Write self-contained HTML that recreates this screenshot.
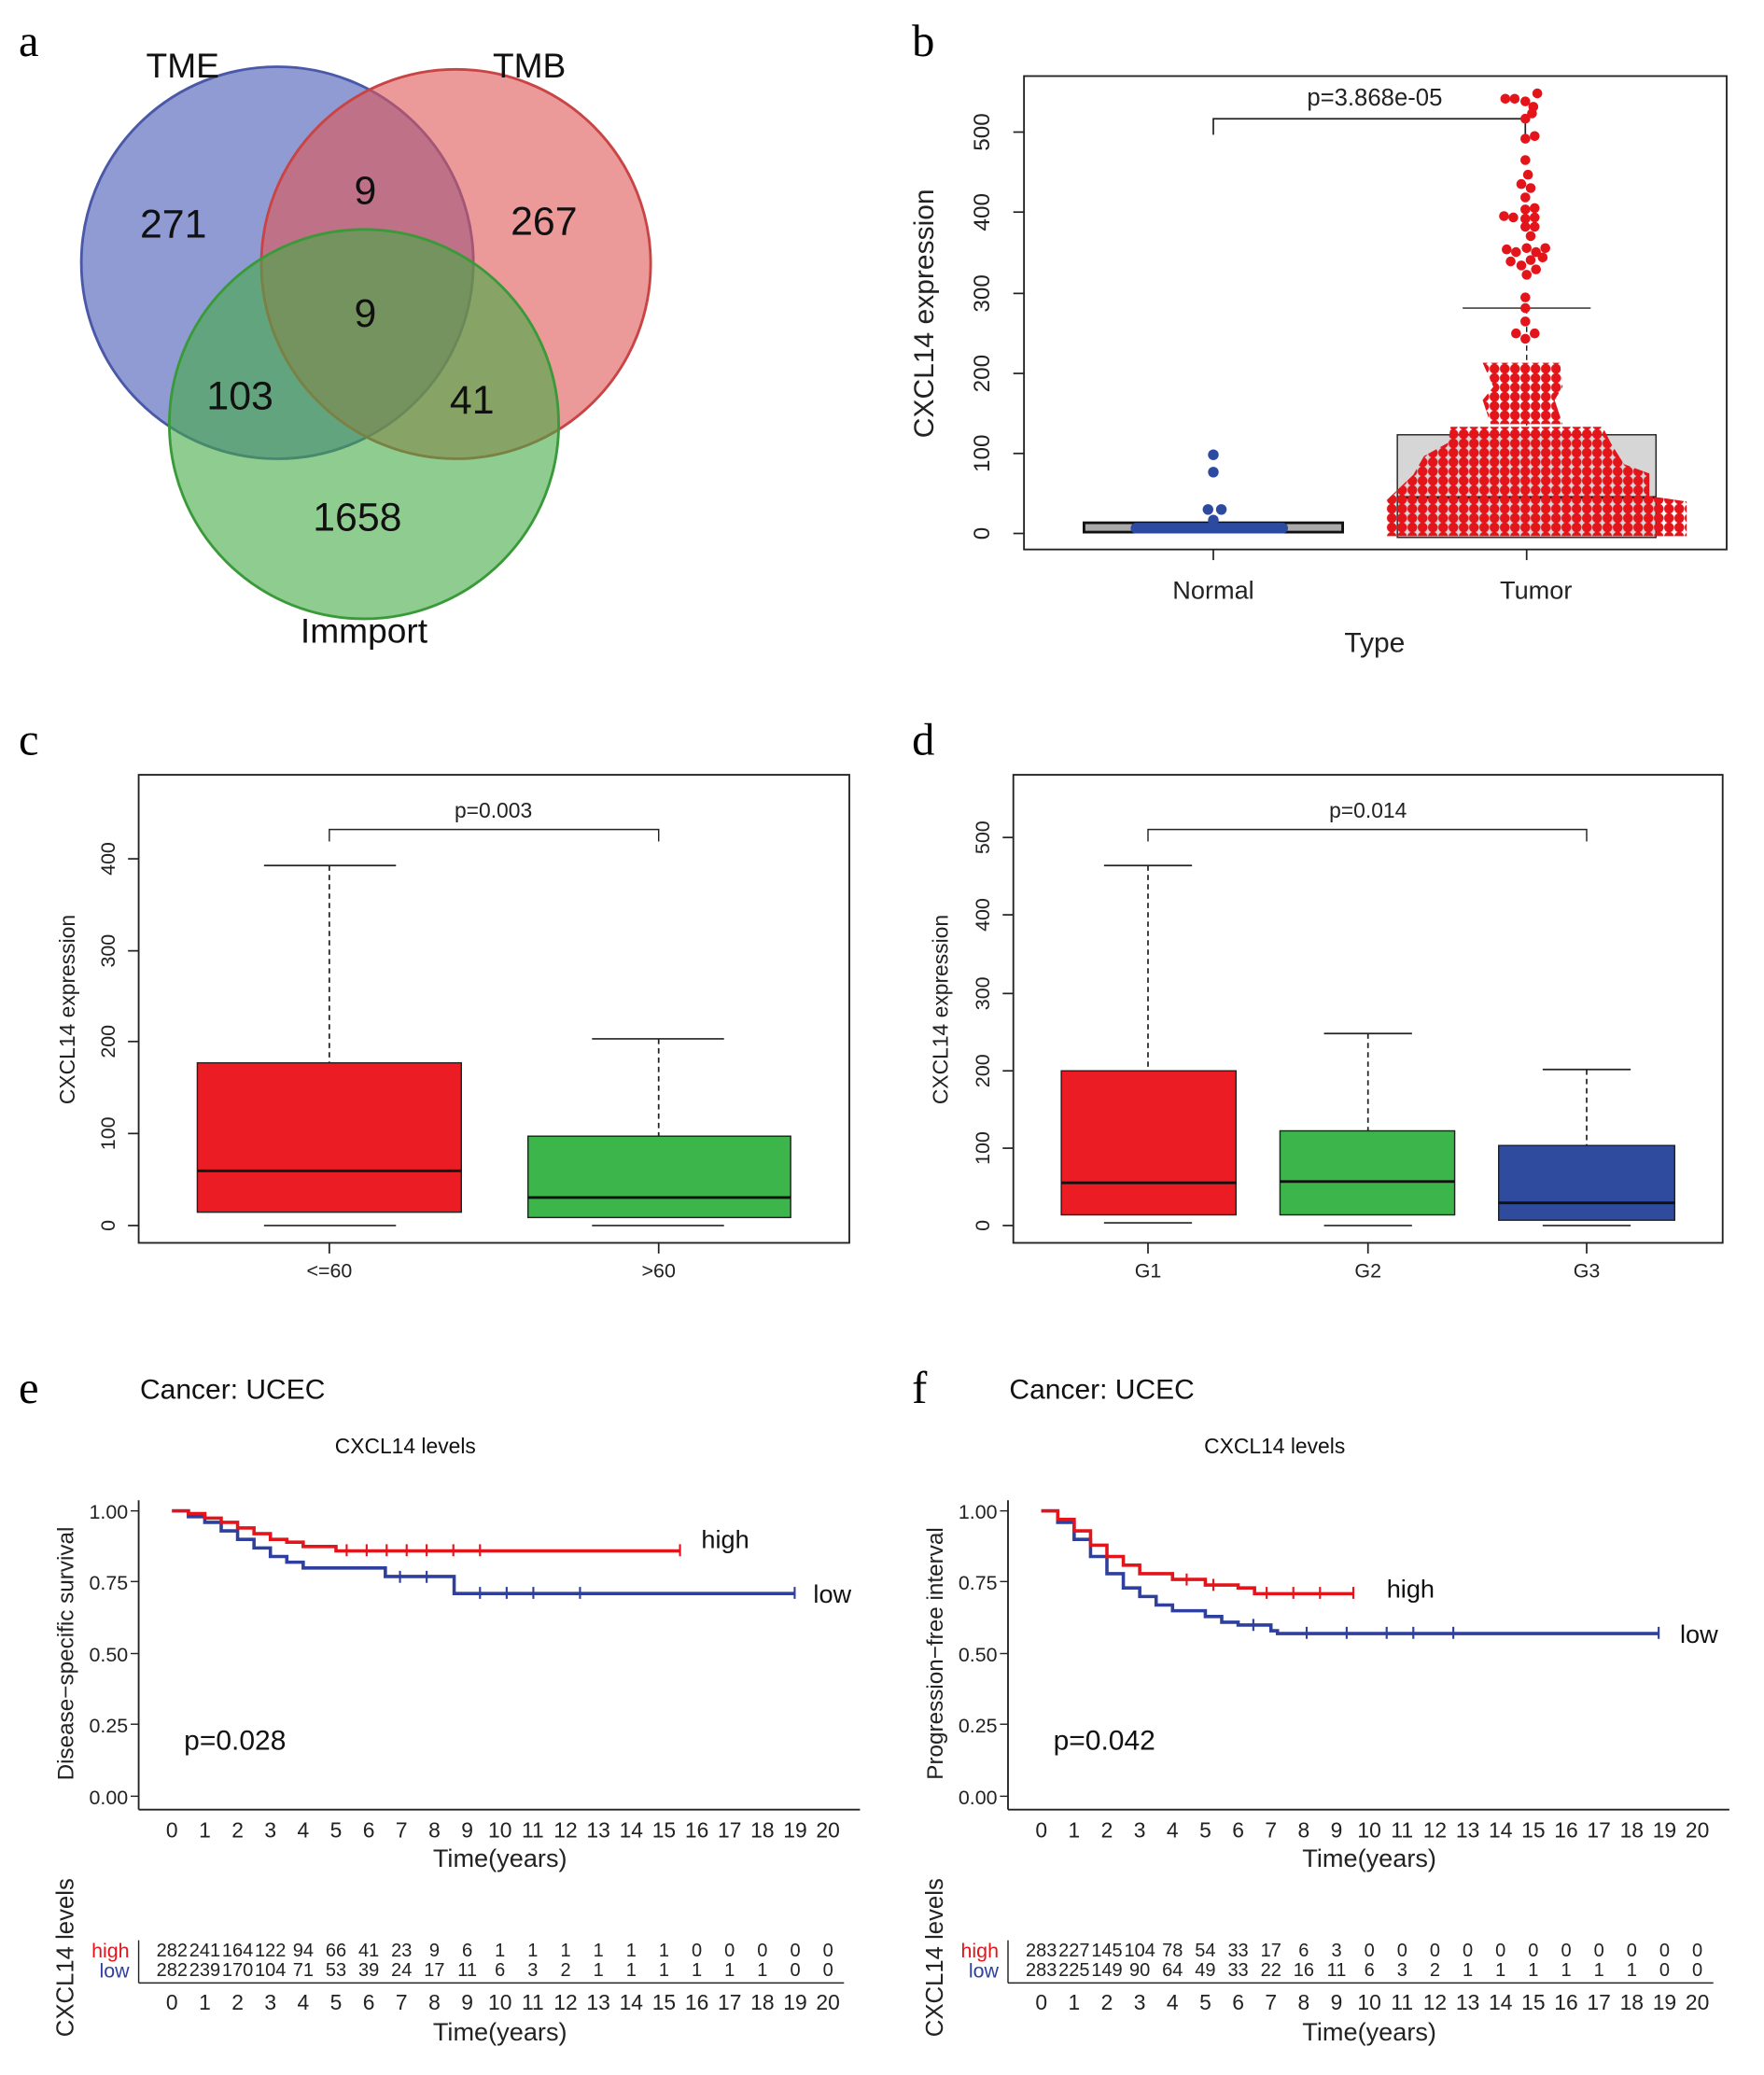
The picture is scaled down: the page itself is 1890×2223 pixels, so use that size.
<!DOCTYPE html>
<html><head><meta charset="utf-8"><style>
html,body{margin:0;padding:0;background:#fff}
svg{display:block}
text{font-family:"Liberation Sans",sans-serif}
.pl{font-family:"Liberation Serif",serif;font-size:34px}
</style></head><body>
<svg width="1890" height="2223" viewBox="0 0 1323 1556" xmlns="http://www.w3.org/2000/svg">
<defs>
<pattern id="rd" x="1040" y="0" width="7.7" height="7" patternUnits="userSpaceOnUse"><circle cx="3.85" cy="3.5" r="3.7" fill="#e3151b"/></pattern>
</defs>
<rect width="1323" height="1556" fill="#fff"/>
<text class="pl" x="14" y="42">a</text>
<text class="pl" x="684" y="42">b</text>
<text class="pl" x="14" y="566">c</text>
<text class="pl" x="684" y="566">d</text>
<text class="pl" x="14" y="1052">e</text>
<text class="pl" x="684" y="1052">f</text>

<!-- Venn -->
<circle cx="208" cy="197" r="147" fill="#5566bb" fill-opacity="0.65" stroke="#4a58a8" stroke-width="2"/>
<circle cx="342" cy="198" r="146" fill="#e05555" fill-opacity="0.6" stroke="#c94444" stroke-width="2"/>
<circle cx="273" cy="318" r="146" fill="#44aa44" fill-opacity="0.6" stroke="#3a9a3a" stroke-width="2"/>
<g font-size="30" text-anchor="middle" fill="#111">
<text x="130" y="178">271</text><text x="274" y="153">9</text><text x="408" y="176">267</text>
<text x="274" y="245">9</text><text x="180" y="307">103</text><text x="354" y="310">41</text>
<text x="268" y="398">1658</text>
</g>
<g font-size="26" text-anchor="middle" fill="#111">
<text x="137" y="58">TME</text><text x="397" y="58">TMB</text><text x="273" y="482">Immport</text>
</g>

<!-- panel b -->
<rect x="768" y="57" width="527" height="355" fill="none" stroke="#222" stroke-width="1.3"/>
<g stroke="#222" stroke-width="1.2">
<line x1="768" y1="400" x2="760" y2="400"/><line x1="768" y1="340" x2="760" y2="340"/><line x1="768" y1="280" x2="760" y2="280"/>
<line x1="768" y1="220" x2="760" y2="220"/><line x1="768" y1="159" x2="760" y2="159"/><line x1="768" y1="99" x2="760" y2="99"/>
<line x1="910" y1="412" x2="910" y2="420"/><line x1="1145" y1="412" x2="1145" y2="420"/>
</g>
<g font-size="17" text-anchor="middle" fill="#222">
<text transform="translate(742,400) rotate(-90)">0</text><text transform="translate(742,340) rotate(-90)">100</text>
<text transform="translate(742,280) rotate(-90)">200</text><text transform="translate(742,220) rotate(-90)">300</text>
<text transform="translate(742,159) rotate(-90)">400</text><text transform="translate(742,99) rotate(-90)">500</text>
<text x="910" y="449" font-size="19">Normal</text><text x="1152" y="449" font-size="19">Tumor</text>
<text x="1031" y="489" font-size="21">Type</text>
<text transform="translate(700,235) rotate(-90)" font-size="21">CXCL14 expression</text>
<text x="1031" y="79" font-size="18">p=3.868e-05</text>
</g>
<path d="M910,101 V89 H1144 V101" fill="none" stroke="#222" stroke-width="1.2"/>
<rect x="1048" y="326" width="194" height="77" fill="#d6d6d6" stroke="#222"/>
<line x1="1145" y1="231" x2="1145" y2="326" stroke="#222" stroke-dasharray="4,3"/>
<line x1="1097" y1="231" x2="1193" y2="231" stroke="#222"/>
<line x1="1048" y1="373" x2="1242" y2="373" stroke="#111" stroke-width="2"/>
<polygon points="1040,402 1265,402 1265,376 1237,372 1237,355 1218,348 1208,332 1202,320 1088,320 1086,332 1068,342 1060,356 1040,375" fill="url(#rd)"/>
<polygon points="1118,318 1172,318 1166,300 1172,290 1170,272 1112,272 1120,290 1112,300" fill="url(#rd)"/>
<g fill="#e3151b">
<circle cx="1137" cy="250" r="3.7"/><circle cx="1144" cy="254" r="3.7"/><circle cx="1151" cy="250" r="3.7"/>
<circle cx="1144" cy="241" r="3.7"/><circle cx="1144" cy="231" r="3.7"/><circle cx="1144" cy="223" r="3.7"/>
<circle cx="1130" cy="187" r="3.7"/><circle cx="1137" cy="189" r="3.7"/><circle cx="1145" cy="186" r="3.7"/><circle cx="1152" cy="189" r="3.7"/><circle cx="1159" cy="186" r="3.7"/>
<circle cx="1133" cy="196" r="3.7"/><circle cx="1141" cy="199" r="3.7"/><circle cx="1148" cy="195" r="3.7"/><circle cx="1157" cy="193" r="3.7"/>
<circle cx="1145" cy="206" r="3.7"/><circle cx="1152" cy="202" r="3.7"/>
<circle cx="1144" cy="157" r="3.7"/><circle cx="1151" cy="156" r="3.7"/>
<circle cx="1128" cy="162" r="3.7"/><circle cx="1135" cy="163" r="3.7"/><circle cx="1144" cy="164" r="3.7"/><circle cx="1151" cy="163" r="3.7"/>
<circle cx="1144" cy="170" r="3.7"/><circle cx="1151" cy="170" r="3.7"/><circle cx="1148" cy="177" r="3.7"/>
<circle cx="1146" cy="131" r="3.7"/><circle cx="1141" cy="138" r="3.7"/><circle cx="1148" cy="141" r="3.7"/><circle cx="1144" cy="148" r="3.7"/>
<circle cx="1144" cy="120" r="3.7"/>
<circle cx="1144" cy="104" r="3.7"/><circle cx="1151" cy="102" r="3.7"/>
<circle cx="1153" cy="70" r="3.7"/><circle cx="1129" cy="74" r="3.7"/><circle cx="1136" cy="74" r="3.7"/><circle cx="1144" cy="76" r="3.7"/><circle cx="1150" cy="80" r="3.7"/>
<circle cx="1149" cy="85" r="3.7"/><circle cx="1144" cy="89" r="3.7"/>
</g>
<rect x="813" y="392" width="194" height="7" fill="#aaa" stroke="#111" stroke-width="2"/>
<g fill="#2b4aa0">
<circle cx="910" cy="341" r="4"/><circle cx="910" cy="354" r="4"/><circle cx="906" cy="382" r="4"/><circle cx="916" cy="382" r="4"/>
<circle cx="910" cy="390" r="4"/>
<rect x="848" y="392" width="118" height="8" rx="4"/>
</g>

<!-- panel c -->
<rect x="104" y="581" width="533" height="351" fill="none" stroke="#222" stroke-width="1.3"/>
<g stroke="#222" stroke-width="1.2">
<line x1="104" y1="919" x2="96" y2="919"/><line x1="104" y1="850" x2="96" y2="850"/><line x1="104" y1="781" x2="96" y2="781"/>
<line x1="104" y1="713" x2="96" y2="713"/><line x1="104" y1="644" x2="96" y2="644"/>
<line x1="247" y1="932" x2="247" y2="940"/><line x1="494" y1="932" x2="494" y2="940"/>
</g>
<g font-size="15" text-anchor="middle" fill="#222">
<text transform="translate(86,919) rotate(-90)">0</text><text transform="translate(86,850) rotate(-90)">100</text>
<text transform="translate(86,781) rotate(-90)">200</text><text transform="translate(86,713) rotate(-90)">300</text>
<text transform="translate(86,644) rotate(-90)">400</text>
<text x="247" y="958">&lt;=60</text><text x="494" y="958">&gt;60</text>
<text transform="translate(56,757) rotate(-90)" font-size="16">CXCL14 expression</text>
<text x="370" y="613" font-size="16">p=0.003</text>
</g>
<path d="M247,631 V622 H494 V631" fill="none" stroke="#222"/>
<g stroke="#222" stroke-width="1.2">
<line x1="247" y1="649" x2="247" y2="797" stroke-dasharray="4,3"/><line x1="198" y1="649" x2="297" y2="649"/>
<line x1="198" y1="919" x2="297" y2="919"/>
<line x1="494" y1="779" x2="494" y2="852" stroke-dasharray="4,3"/><line x1="444" y1="779" x2="543" y2="779"/>
<line x1="444" y1="919" x2="543" y2="919"/>
</g>
<rect x="148" y="797" width="198" height="112" fill="#ec1c24" stroke="#222"/>
<line x1="148" y1="878" x2="346" y2="878" stroke="#111" stroke-width="2"/>
<rect x="396" y="852" width="197" height="61" fill="#3cb54a" stroke="#222"/>
<line x1="396" y1="898" x2="593" y2="898" stroke="#111" stroke-width="2"/>

<!-- panel d -->
<rect x="760" y="581" width="532" height="351" fill="none" stroke="#222" stroke-width="1.3"/>
<g stroke="#222" stroke-width="1.2">
<line x1="760" y1="919" x2="752" y2="919"/><line x1="760" y1="861" x2="752" y2="861"/><line x1="760" y1="803" x2="752" y2="803"/>
<line x1="760" y1="745" x2="752" y2="745"/><line x1="760" y1="686" x2="752" y2="686"/><line x1="760" y1="628" x2="752" y2="628"/>
<line x1="861" y1="932" x2="861" y2="940"/><line x1="1026" y1="932" x2="1026" y2="940"/><line x1="1190" y1="932" x2="1190" y2="940"/>
</g>
<g font-size="15" text-anchor="middle" fill="#222">
<text transform="translate(742,919) rotate(-90)">0</text><text transform="translate(742,861) rotate(-90)">100</text>
<text transform="translate(742,803) rotate(-90)">200</text><text transform="translate(742,745) rotate(-90)">300</text>
<text transform="translate(742,686) rotate(-90)">400</text><text transform="translate(742,628) rotate(-90)">500</text>
<text x="861" y="958">G1</text><text x="1026" y="958">G2</text><text x="1190" y="958">G3</text>
<text transform="translate(711,757) rotate(-90)" font-size="16">CXCL14 expression</text>
<text x="1026" y="613" font-size="16">p=0.014</text>
</g>
<path d="M861,631 V622 H1190 V631" fill="none" stroke="#222"/>
<g stroke="#222" stroke-width="1.2">
<line x1="861" y1="649" x2="861" y2="803" stroke-dasharray="4,3"/><line x1="828" y1="649" x2="894" y2="649"/><line x1="828" y1="917" x2="894" y2="917"/>
<line x1="1026" y1="775" x2="1026" y2="848" stroke-dasharray="4,3"/><line x1="993" y1="775" x2="1059" y2="775"/><line x1="993" y1="919" x2="1059" y2="919"/>
<line x1="1190" y1="802" x2="1190" y2="859" stroke-dasharray="4,3"/><line x1="1157" y1="802" x2="1223" y2="802"/><line x1="1157" y1="919" x2="1223" y2="919"/>
</g>
<rect x="796" y="803" width="131" height="108" fill="#ec1c24" stroke="#222"/>
<line x1="796" y1="887" x2="927" y2="887" stroke="#111" stroke-width="2"/>
<rect x="960" y="848" width="131" height="63" fill="#3cb54a" stroke="#222"/>
<line x1="960" y1="886" x2="1091" y2="886" stroke="#111" stroke-width="2"/>
<rect x="1124" y="859" width="132" height="56" fill="#2e4b9e" stroke="#222"/>
<line x1="1124" y1="902" x2="1256" y2="902" stroke="#111" stroke-width="2"/>

<!-- panel e -->
<g font-size="21" fill="#111"><text x="105" y="1049">Cancer: UCEC</text><text x="757" y="1049">Cancer: UCEC</text></g>
<g font-size="16" fill="#111" text-anchor="middle"><text x="304" y="1090">CXCL14 levels</text><text x="956" y="1090">CXCL14 levels</text></g>

<g id="kmE">
<line x1="104" y1="1125" x2="104" y2="1357" stroke="#222" stroke-width="1.3"/>
<line x1="104" y1="1357" x2="645" y2="1357" stroke="#222" stroke-width="1.3"/>
<g stroke="#222">
<line x1="98" y1="1133" x2="104" y2="1133"/><line x1="98" y1="1186" x2="104" y2="1186"/><line x1="98" y1="1240" x2="104" y2="1240"/>
<line x1="98" y1="1293" x2="104" y2="1293"/><line x1="98" y1="1347" x2="104" y2="1347"/>
</g>
<g font-size="15" text-anchor="end" fill="#222">
<text x="96" y="1139">1.00</text><text x="96" y="1192">0.75</text><text x="96" y="1246">0.50</text><text x="96" y="1299">0.25</text><text x="96" y="1353">0.00</text>
</g>
</g>
<text transform="translate(55,1240) rotate(-90)" font-size="17" text-anchor="middle" fill="#222">Disease−specific survival</text>
<text x="138" y="1312" font-size="21" fill="#111">p=0.028</text>
<path d="M129,1133 H141.3 V1137.3 H153.6 V1141.6 H165.9 V1148 H178.2 V1154.4 H190.5 V1160.8 H202.8 V1167.2 H215.1 V1171.5 H227.4 V1175.8 H289 V1182.2 H340.6 V1195 H596" fill="none" stroke="#2e3f9e" stroke-width="2.5"/>
<path d="M129,1133 H141.3 V1135 H153.6 V1138.4 H165.9 V1141.6 H178.2 V1145.8 H190.5 V1150.1 H202.8 V1154.4 H215.1 V1156.5 H227.4 V1159.7 H252 V1163 H510" fill="none" stroke="#e3151b" stroke-width="2.5"/>
<path d="M260,1158v9M275,1158v9M290,1158v9M305,1158v9M320,1158v9M340,1158v9M360,1158v9M510,1158v9" stroke="#e3151b" stroke-width="1.5"/>
<path d="M300,1178v9M320,1178v9M360,1190v9M380,1190v9M400,1190v9M435,1190v9M596,1190v9" stroke="#2e3f9e" stroke-width="1.5"/>
<text x="526" y="1161" font-family="Liberation Serif,serif" font-size="19" fill="#111">high</text>
<text x="610" y="1202" font-family="Liberation Serif,serif" font-size="19" fill="#111">low</text>
<g font-size="16" text-anchor="middle" fill="#222">
<text x="129" y="1378">0</text><text x="153.6" y="1378">1</text><text x="178.2" y="1378">2</text><text x="202.8" y="1378">3</text><text x="227.4" y="1378">4</text><text x="252" y="1378">5</text><text x="276.6" y="1378">6</text><text x="301.2" y="1378">7</text><text x="325.8" y="1378">8</text><text x="350.4" y="1378">9</text><text x="375" y="1378">10</text><text x="399.6" y="1378">11</text><text x="424.2" y="1378">12</text><text x="448.8" y="1378">13</text><text x="473.4" y="1378">14</text><text x="498" y="1378">15</text><text x="522.6" y="1378">16</text><text x="547.2" y="1378">17</text><text x="571.8" y="1378">18</text><text x="596.4" y="1378">19</text><text x="621" y="1378">20</text>
<text x="375" y="1400" font-size="19">Time(years)</text>
<text transform="translate(55,1468) rotate(-90)" font-size="18">CXCL14 levels</text>
</g>
<line x1="104" y1="1455" x2="104" y2="1487" stroke="#222"/>
<line x1="104" y1="1487" x2="633" y2="1487" stroke="#222"/>
<g font-size="15" text-anchor="end"><text x="97" y="1468" fill="#e3151b">high</text><text x="97" y="1483" fill="#2e3f9e">low</text></g>
<g font-size="14" text-anchor="middle" fill="#222">
<text x="129" y="1467">282</text><text x="153.6" y="1467">241</text><text x="178.2" y="1467">164</text><text x="202.8" y="1467">122</text><text x="227.4" y="1467">94</text><text x="252" y="1467">66</text><text x="276.6" y="1467">41</text><text x="301.2" y="1467">23</text><text x="325.8" y="1467">9</text><text x="350.4" y="1467">6</text><text x="375" y="1467">1</text><text x="399.6" y="1467">1</text><text x="424.2" y="1467">1</text><text x="448.8" y="1467">1</text><text x="473.4" y="1467">1</text><text x="498" y="1467">1</text><text x="522.6" y="1467">0</text><text x="547.2" y="1467">0</text><text x="571.8" y="1467">0</text><text x="596.4" y="1467">0</text><text x="621" y="1467">0</text>
<text x="129" y="1482">282</text><text x="153.6" y="1482">239</text><text x="178.2" y="1482">170</text><text x="202.8" y="1482">104</text><text x="227.4" y="1482">71</text><text x="252" y="1482">53</text><text x="276.6" y="1482">39</text><text x="301.2" y="1482">24</text><text x="325.8" y="1482">17</text><text x="350.4" y="1482">11</text><text x="375" y="1482">6</text><text x="399.6" y="1482">3</text><text x="424.2" y="1482">2</text><text x="448.8" y="1482">1</text><text x="473.4" y="1482">1</text><text x="498" y="1482">1</text><text x="522.6" y="1482">1</text><text x="547.2" y="1482">1</text><text x="571.8" y="1482">1</text><text x="596.4" y="1482">0</text><text x="621" y="1482">0</text>
</g>
<g font-size="16" text-anchor="middle" fill="#222">
<text x="129" y="1507">0</text><text x="153.6" y="1507">1</text><text x="178.2" y="1507">2</text><text x="202.8" y="1507">3</text><text x="227.4" y="1507">4</text><text x="252" y="1507">5</text><text x="276.6" y="1507">6</text><text x="301.2" y="1507">7</text><text x="325.8" y="1507">8</text><text x="350.4" y="1507">9</text><text x="375" y="1507">10</text><text x="399.6" y="1507">11</text><text x="424.2" y="1507">12</text><text x="448.8" y="1507">13</text><text x="473.4" y="1507">14</text><text x="498" y="1507">15</text><text x="522.6" y="1507">16</text><text x="547.2" y="1507">17</text><text x="571.8" y="1507">18</text><text x="596.4" y="1507">19</text><text x="621" y="1507">20</text>
<text x="375" y="1530" font-size="19">Time(years)</text>
</g>

<!-- panel f -->
<use href="#kmE" transform="translate(652,0)"/>
<text transform="translate(707,1240) rotate(-90)" font-size="17" text-anchor="middle" fill="#222">Progression−free interval</text>
<text x="790" y="1312" font-size="21" fill="#111">p=0.042</text>
<path d="M781,1133 H793.3 V1141.6 H805.6 V1154.4 H817.9 V1167.2 H830.2 V1180.1 H842.5 V1190.8 H854.8 V1197.2 H867.1 V1203.6 H879.4 V1207.9 H904 V1212.2 H916.3 V1216.5 H928.6 V1218.6 H953.2 V1222.9 H958.1 V1225 H1244" fill="none" stroke="#2e3f9e" stroke-width="2.5"/>
<path d="M781,1133 H793.3 V1139.4 H805.6 V1148 H817.9 V1158.7 H830.2 V1167.2 H842.5 V1173.7 H854.8 V1180.1 H879.4 V1184.4 H904 V1188.6 H928.6 V1190.8 H940.9 V1195.1 H1015" fill="none" stroke="#e3151b" stroke-width="2.5"/>
<path d="M890,1180v9M910,1184v9M950,1190v9M970,1190v9M990,1190v9M1015,1190v9" stroke="#e3151b" stroke-width="1.5"/>
<path d="M940,1214v9M980,1220v9M1010,1220v9M1040,1220v9M1060,1220v9M1090,1220v9M1244,1220v9" stroke="#2e3f9e" stroke-width="1.5"/>
<text x="1040" y="1198" font-family="Liberation Serif,serif" font-size="19" fill="#111">high</text>
<text x="1260" y="1232" font-family="Liberation Serif,serif" font-size="19" fill="#111">low</text>
<g font-size="16" text-anchor="middle" fill="#222">
<text x="781" y="1378">0</text><text x="805.6" y="1378">1</text><text x="830.2" y="1378">2</text><text x="854.8" y="1378">3</text><text x="879.4" y="1378">4</text><text x="904" y="1378">5</text><text x="928.6" y="1378">6</text><text x="953.2" y="1378">7</text><text x="977.8" y="1378">8</text><text x="1002.4" y="1378">9</text><text x="1027" y="1378">10</text><text x="1051.6" y="1378">11</text><text x="1076.2" y="1378">12</text><text x="1100.8" y="1378">13</text><text x="1125.4" y="1378">14</text><text x="1150" y="1378">15</text><text x="1174.6" y="1378">16</text><text x="1199.2" y="1378">17</text><text x="1223.8" y="1378">18</text><text x="1248.4" y="1378">19</text><text x="1273" y="1378">20</text>
<text x="1027" y="1400" font-size="19">Time(years)</text>
<text transform="translate(707,1468) rotate(-90)" font-size="18">CXCL14 levels</text>
</g>
<line x1="756" y1="1455" x2="756" y2="1487" stroke="#222"/>
<line x1="756" y1="1487" x2="1285" y2="1487" stroke="#222"/>
<g font-size="15" text-anchor="end"><text x="749" y="1468" fill="#e3151b">high</text><text x="749" y="1483" fill="#2e3f9e">low</text></g>
<g font-size="14" text-anchor="middle" fill="#222">
<text x="781" y="1467">283</text><text x="805.6" y="1467">227</text><text x="830.2" y="1467">145</text><text x="854.8" y="1467">104</text><text x="879.4" y="1467">78</text><text x="904" y="1467">54</text><text x="928.6" y="1467">33</text><text x="953.2" y="1467">17</text><text x="977.8" y="1467">6</text><text x="1002.4" y="1467">3</text><text x="1027" y="1467">0</text><text x="1051.6" y="1467">0</text><text x="1076.2" y="1467">0</text><text x="1100.8" y="1467">0</text><text x="1125.4" y="1467">0</text><text x="1150" y="1467">0</text><text x="1174.6" y="1467">0</text><text x="1199.2" y="1467">0</text><text x="1223.8" y="1467">0</text><text x="1248.4" y="1467">0</text><text x="1273" y="1467">0</text>
<text x="781" y="1482">283</text><text x="805.6" y="1482">225</text><text x="830.2" y="1482">149</text><text x="854.8" y="1482">90</text><text x="879.4" y="1482">64</text><text x="904" y="1482">49</text><text x="928.6" y="1482">33</text><text x="953.2" y="1482">22</text><text x="977.8" y="1482">16</text><text x="1002.4" y="1482">11</text><text x="1027" y="1482">6</text><text x="1051.6" y="1482">3</text><text x="1076.2" y="1482">2</text><text x="1100.8" y="1482">1</text><text x="1125.4" y="1482">1</text><text x="1150" y="1482">1</text><text x="1174.6" y="1482">1</text><text x="1199.2" y="1482">1</text><text x="1223.8" y="1482">1</text><text x="1248.4" y="1482">0</text><text x="1273" y="1482">0</text>
</g>
<g font-size="16" text-anchor="middle" fill="#222">
<text x="781" y="1507">0</text><text x="805.6" y="1507">1</text><text x="830.2" y="1507">2</text><text x="854.8" y="1507">3</text><text x="879.4" y="1507">4</text><text x="904" y="1507">5</text><text x="928.6" y="1507">6</text><text x="953.2" y="1507">7</text><text x="977.8" y="1507">8</text><text x="1002.4" y="1507">9</text><text x="1027" y="1507">10</text><text x="1051.6" y="1507">11</text><text x="1076.2" y="1507">12</text><text x="1100.8" y="1507">13</text><text x="1125.4" y="1507">14</text><text x="1150" y="1507">15</text><text x="1174.6" y="1507">16</text><text x="1199.2" y="1507">17</text><text x="1223.8" y="1507">18</text><text x="1248.4" y="1507">19</text><text x="1273" y="1507">20</text>
<text x="1027" y="1530" font-size="19">Time(years)</text>
</g>
</svg>
</body></html>
